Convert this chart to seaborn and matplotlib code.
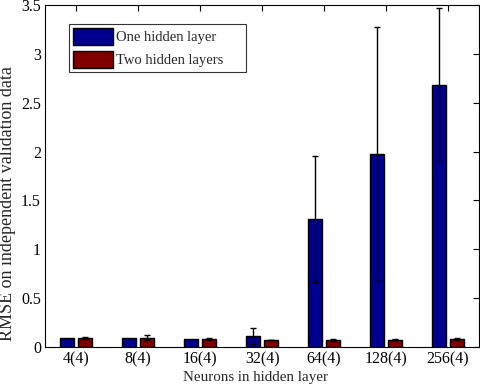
import matplotlib
matplotlib.use("Agg")
import matplotlib.pyplot as plt
import seaborn as sns
import pandas as pd
import numpy as np
from matplotlib.ticker import FuncFormatter, MultipleLocator

categories = ["4(4)", "8(4)", "16(4)", "32(4)", "64(4)", "128(4)", "256(4)"]
series = ["One hidden layer", "Two hidden layers"]
one_mean = [0.092, 0.090, 0.079, 0.113, 1.31, 1.975, 2.685]
one_err = [0.0, 0.0, 0.0, 0.085, 0.64, 1.295, 0.78]
two_mean = [0.090, 0.095, 0.082, 0.072, 0.072, 0.072, 0.082]
two_err = [0.008, 0.027, 0.008, 0.004, 0.006, 0.005, 0.010]
colors = ["#00008F", "#800000"]

sns.set_style("white")
plt.rcParams["font.family"] = ["Liberation Serif", "DejaVu Serif"]
plt.rcParams["font.size"] = 10.5

df = pd.DataFrame({
    "cat": categories * 2,
    "series": [series[0]] * len(categories) + [series[1]] * len(categories),
    "val": one_mean + two_mean,
})

fig = plt.figure(figsize=(4.8, 3.87), dpi=100)
ax = fig.add_axes([0.094, 0.1034, 0.904, 0.8837])
sns.barplot(data=df, x="cat", y="val", hue="series", palette=colors,
            errorbar=None, width=0.58, gap=0.19, edgecolor="black",
            linewidth=1.0, ax=ax, saturation=1)

# error bars at bar centers
errs = one_err + two_err
means = one_mean + two_mean
patches = [p for p in ax.patches if p.get_height() > 0][:len(means)]
for p, m, e in zip(patches, means, errs):
    cx = p.get_x() + p.get_width() / 2
    if e > 0:
        ax.errorbar(cx, m, yerr=e, color="black", capsize=2.5, elinewidth=1,
                    capthick=1, fmt="none")

ax.set_xlim(-0.5, len(categories) - 0.5)
ax.set_ylim(0, 3.5)
ax.yaxis.set_major_locator(MultipleLocator(0.5))
ax.yaxis.set_major_formatter(FuncFormatter(lambda v, p: f"{v:g}"))
ax.set_xlabel("Neurons in hidden layer", fontsize=10.8)
ax.set_ylabel("RMSE on independent validation data", fontsize=13.0)
ax.xaxis.set_label_coords(0.485, -0.071)
ax.yaxis.set_label_coords(-0.066, 0.418)
ax.tick_params(direction="in", top=True, right=True, length=4, width=0.8,
               labelsize=11.5, colors="black", pad=3)
for s in ax.spines.values():
    s.set_color("black")
    s.set_linewidth(0.8)

leg = ax.legend(loc="upper left", bbox_to_anchor=(0.055, 0.5, 0.408, 0.444),
                mode="expand", frameon=True,
                fancybox=False, edgecolor="black", fontsize=10.5,
                handlelength=2.75, handleheight=1.45, borderpad=0.25,
                labelspacing=0.4, handletextpad=0.2, borderaxespad=0)
leg.get_frame().set_linewidth(0.8)

fig.savefig("out.png", dpi=100)
